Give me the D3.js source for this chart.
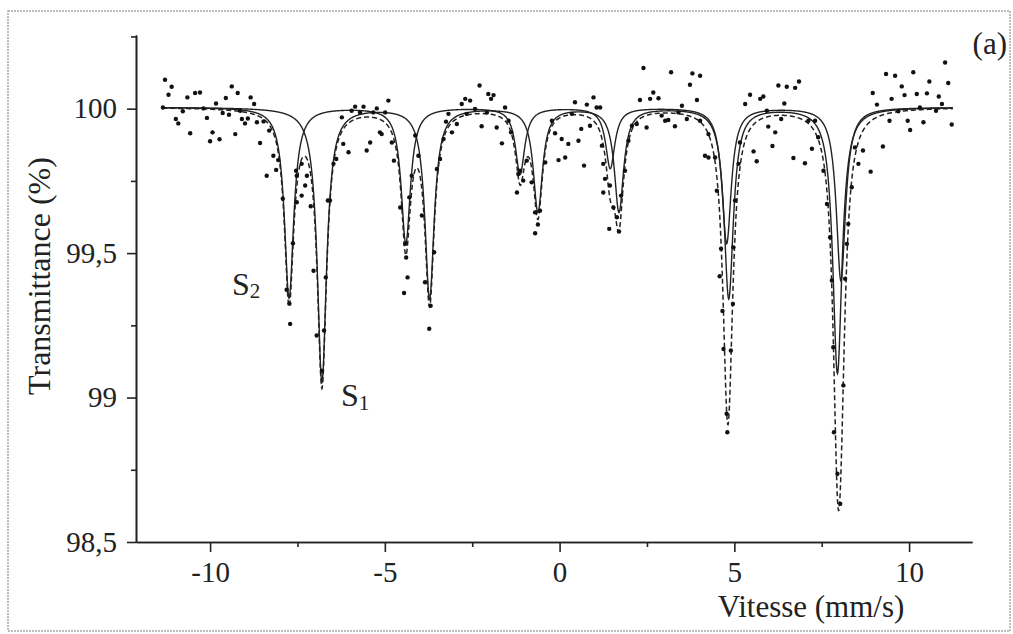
<!DOCTYPE html>
<meta charset="utf-8">
<script src="https://d3js.org/d3.v7.min.js"></script>
<style>
  body { margin: 0; background: #fff; }
  text { font-family: "Liberation Serif", "Times New Roman", serif; fill: #222; }
</style>
<div id="chart"></div>
<script>
  // measured points (velocity mm/s, transmittance %)
  const dotVelocity = [
    -11.29, -11.10, -11.19, -11.35, -10.65, -10.43, -10.29, -10.78, -10.98, -10.91, -10.57, -10.09, -10.19,
    -9.93, -10.00, -9.73, -9.83, -9.55, -9.38, -9.21, -9.64, -9.46, -9.28, -8.84, -8.74, -9.14, -9.09, -9.00,
    -8.92, -8.66, -8.47, -8.57, -8.31, -8.38, -8.19, -8.05, -8.11, -7.92, -7.63, -7.81, -7.71, -7.54, -7.52,
    -7.38, -7.23, -7.28, -7.52, -7.38, -7.12, -7.04, -6.63, -6.69, -6.95, -6.80, -6.74, -7.73,
    -6.57, -6.47, -6.39, -6.19, -6.04, -6.23, -5.95, -5.85, -5.61, -5.71, -5.52, -5.42, -5.23, -5.33, -4.90,
    -5.14, -5.09, -4.99, -4.80, -4.74, -4.56, -4.42, -4.39, -4.35, -4.45, -4.23, -4.30, -4.13, -4.04, -3.94,
    -3.85, -3.69, -3.73, -3.59, -3.51, -3.42, -3.32, -3.25, -3.18, -3.08, -2.94, -2.80, -2.70, -2.56, -2.66,
    -2.42, -2.29, -2.04, -1.89, -1.96, -2.23, -2.08, -1.80, -1.65, -1.56, -1.46,
    -1.39, -1.18, -1.13, -1.22, -1.04, -0.94, -0.80, -0.70, -0.62, -0.70, -0.56, -0.41, -0.22, -0.13, -0.03,
    0.06, 0.16, 0.25, 0.35, 0.44, 0.54, 0.62, 0.70, 0.78, 0.87, 0.97, 1.06, 1.16, 1.21, 1.25, 1.30, 1.25,
    1.44, 1.54, 1.64, 1.42, 1.70, 1.76, 1.87, 1.97, 2.07, 2.21, 2.30, 2.49, 2.59, 2.68, 2.83, 2.40, 3.19,
    2.92, 3.02, 3.11, 3.30, 3.40, 3.50,
    3.80, 4.02, 3.73, 3.93, 3.64, 4.02, 4.26, 4.16, 4.26, 4.45, 4.50, 4.58, 4.66, 4.62, 4.69, 4.80, 4.78,
    4.90, 4.96, 4.97, 5.02, 5.12, 5.16, 5.31, 5.45, 5.74, 5.83, 5.93, 5.97, 6.17, 5.55, 5.64, 6.09, 6.26,
    6.50, 6.74, 6.85, 6.43, 6.34, 6.69, 7.02, 7.22, 7.12, 7.31, 7.40, 7.55, 7.65, 7.74,
    7.79, 7.83, 7.85, 7.95, 8.03, 8.12, 8.17, 8.22, 8.26, 8.36, 8.45, 8.55,
    8.68, 8.90, 9.25, 8.96, 9.08, 9.34, 9.60, 9.50, 9.79, 9.87, 9.44, 9.69, 9.96, 10.03, 10.12, 10.22,
    10.31, 10.41, 10.51, 10.58, 10.77, 10.85, 11.03, 11.12, 11.22, 10.94
  ];
  const dotTransmittance = [
    100.100, 100.076, 100.048, 100.004, 100.039, 100.054, 100.056, 99.991, 99.964, 99.949, 99.915, 99.968, 100.001,
    99.918, 99.887, 99.894, 100.018, 100.037, 100.077, 100.054, 99.985, 99.979, 99.912, 100.039, 100.016, 99.993, 99.964, 99.949,
    99.966, 99.953, 99.956, 99.881, 99.924, 99.768, 99.837, 99.822, 99.788, 99.688, 99.534, 99.373, 99.255, 99.785, 99.768,
    99.809, 99.768, 99.734, 99.676, 99.699, 99.662, 99.439, 99.682, 99.416, 99.215, 99.093, 99.232, 99.325,
    99.682, 99.809, 99.826, 99.878, 99.849, 99.970, 99.993, 100.007, 100.007, 99.987, 99.855, 99.883, 100.001, 99.987, 100.028,
    99.918, 99.912, 99.987, 99.883, 99.820, 99.658, 99.532, 99.485, 99.416, 99.362, 99.768, 99.693, 99.907, 99.837, 99.630,
    99.399, 99.318, 99.238, 99.503, 99.791, 99.826, 99.895, 99.955, 99.982, 99.918, 99.947, 100.016, 100.034, 100.028, 99.982,
    99.999, 100.080, 100.051, 100.047, 100.034, 99.939, 99.987, 99.935, 99.880, 100.004, 99.958,
    99.918, 99.774, 99.785, 99.710, 99.751, 99.820, 99.745, 99.641, 99.599, 99.569, 99.647, 99.814, 99.958, 99.915, 99.822,
    99.895, 99.831, 99.878, 99.982, 100.022, 99.889, 99.930, 99.803, 100.014, 99.941, 100.039, 100.004, 100.004, 99.872, 99.809, 99.757, 99.710,
    99.734, 99.658, 99.624, 99.584, 99.575, 99.699, 99.785, 99.889, 99.941, 99.947, 100.030, 99.935, 100.034, 100.056, 100.036, 100.141, 100.126,
    99.976, 99.958, 99.961, 99.939, 99.987, 100.010,
    100.122, 100.114, 100.083, 100.030, 99.964, 99.958, 99.912, 99.837, 99.831, 99.831, 99.716, 99.420, 99.300, 99.515, 99.168, 98.880, 98.944,
    99.163, 99.324, 99.520, 99.682, 99.809, 99.883, 100.016, 100.048, 100.034, 100.042, 99.993, 99.938, 99.918, 99.852, 99.818, 99.871, 100.080,
    100.076, 100.072, 100.094, 100.018, 99.964, 99.829, 99.811, 99.861, 99.958, 99.958, 99.901, 99.785, 99.670, 99.555,
    99.405, 99.174, 98.880, 98.736, 98.632, 99.042, 99.411, 99.532, 99.601, 99.728, 99.866, 99.809,
    99.855, 99.782, 99.869, 100.054, 100.014, 100.120, 100.114, 100.034, 100.077, 100.047, 99.958, 99.991, 99.958, 99.926, 100.126, 100.051,
    100.004, 99.953, 100.053, 100.094, 99.993, 100.042, 100.160, 100.089, 99.945, 100.016
  ];

  // fitted sextets: line positions (mm/s) and depths (%)
  const s1Position = [-6.80, -3.72, -0.62, 1.70, 4.84, 7.95];
  const s1Depth = [0.95, 0.66, 0.36, 0.36, 0.66, 0.92];
  const s2Position = [-7.74, -4.40, -1.13, 1.45, 4.78, 8.05];
  const s2Depth = [0.66, 0.47, 0.23, 0.21, 0.47, 0.60];
  const halfWidth = 0.16;
  const baseline = 100.005;
  const fitRange = [-11.37, 11.25];

  const yMajor = [98.5, 99, 99.5, 100];
  const yMinor = [98.75, 99.25, 99.75, 100.25];
  const xMajor = [-10, -5, 0, 5, 10];
  const xMinor = [-7.5, -2.5, 2.5, 7.5];

  const width = 1013, height = 634;

  const svg = d3.select("#chart")
    .append("svg")
    .attr("width", width)
    .attr("height", height);

  // scanned figure frame
  svg.append("rect")
    .attr("x", 8).attr("y", 11)
    .attr("width", 1002).attr("height", 620)
    .attr("fill", "none")
    .attr("stroke", "#a8a8a8")
    .attr("stroke-width", 1.5)
    .attr("stroke-dasharray", "2,1");

  const x = d3.scaleLinear().domain([-12.12, 11.80]).range([136, 972]);
  const y = d3.scaleLinear().domain([98.5, 100.255]).range([542, 35]);

  // comma decimals, plain hyphen for negatives
  const yFormat = d => String(d).replace(".", ",");
  const xFormat = d => String(d);

  // minor ticks first
  svg.append("g")
    .attr("transform", "translate(0,542)")
    .call(d3.axisBottom(x).tickValues(xMinor).tickSize(5).tickFormat("").tickSizeOuter(0));
  svg.append("g")
    .attr("transform", "translate(136,0)")
    .call(d3.axisLeft(y).tickValues(yMinor).tickSize(5).tickFormat("").tickSizeOuter(0));

  svg.append("g")
    .attr("transform", "translate(0,542)")
    .call(d3.axisBottom(x).tickValues(xMajor).tickSize(10).tickPadding(9).tickFormat(xFormat).tickSizeOuter(0));
  svg.append("g")
    .attr("transform", "translate(136,0)")
    .call(d3.axisLeft(y).tickValues(yMajor).tickSize(9).tickPadding(10).tickFormat(yFormat).tickSizeOuter(0));

  svg.selectAll(".domain, .tick line")
    .attr("stroke", "#222")
    .attr("stroke-width", 1.6);
  svg.selectAll(".tick text")
    .style("font-family", "Liberation Serif")
    .style("font-size", "29px")
    .attr("fill", "#222");

  // fit curves
  const grid = d3.range(fitRange[0], fitRange[1] + 0.001, 0.01);
  const absorb = (v, pos, depth) => d3.sum(pos, (p, i) => depth[i] / (1 + ((v - p) / halfWidth) ** 2));
  const s1Curve = grid.map(v => [v, baseline - absorb(v, s1Position, s1Depth)]);
  const s2Curve = grid.map(v => [v, baseline - absorb(v, s2Position, s2Depth)]);
  const totalCurve = grid.map(v => [v, baseline - absorb(v, s1Position, s1Depth) - absorb(v, s2Position, s2Depth)]);

  const line = d3.line().x(d => x(d[0])).y(d => y(d[1]));

  svg.append("path")
    .attr("d", line(totalCurve))
    .attr("fill", "none")
    .attr("stroke", "#222")
    .attr("stroke-width", 1.5)
    .attr("stroke-dasharray", "5,3");

  [s1Curve, s2Curve].forEach(c => {
    svg.append("path")
      .attr("d", line(c))
      .attr("fill", "none")
      .attr("stroke", "#222")
      .attr("stroke-width", 1.4);
  });

  svg.append("g")
    .selectAll("circle")
    .data(dotVelocity.map((v, i) => [v, dotTransmittance[i]]))
    .join("circle")
    .attr("cx", d => x(d[0]))
    .attr("cy", d => y(d[1]))
    .attr("r", 2.2)
    .attr("fill", "#111");

  // titles
  svg.append("text")
    .attr("transform", "translate(50,276) rotate(-90)")
    .attr("text-anchor", "middle")
    .style("font-size", "32px")
    .text("Transmittance (%)");

  svg.append("text")
    .attr("x", 811).attr("y", 617)
    .attr("text-anchor", "middle")
    .style("font-size", "31px")
    .text("Vitesse (mm/s)");

  svg.append("text")
    .attr("x", 1007).attr("y", 54)
    .attr("text-anchor", "end")
    .style("font-size", "31px")
    .text("(a)");

  // sextet labels
  const s2Label = svg.append("text").attr("x", 232).attr("y", 295).style("font-size", "32px");
  s2Label.append("tspan").text("S");
  s2Label.append("tspan").attr("dy", 3).style("font-size", "21px").text("2");

  const s1Label = svg.append("text").attr("x", 341).attr("y", 406).style("font-size", "32px");
  s1Label.append("tspan").text("S");
  s1Label.append("tspan").attr("dy", 4).style("font-size", "21px").text("1");
</script>
